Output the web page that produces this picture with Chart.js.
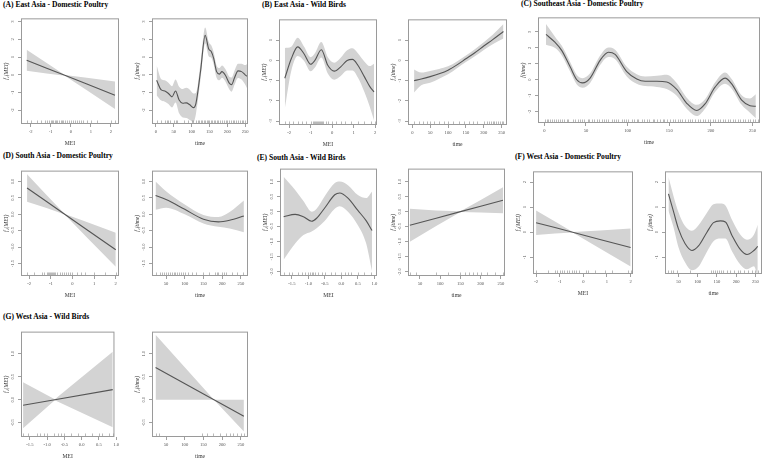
<!DOCTYPE html>
<html>
<head>
<meta charset="utf-8">
<script src="https://cdn.jsdelivr.net/npm/chart.js@4.4.1/dist/chart.umd.min.js"></script>
<style>
  body { margin: 0; background: #fff; }
  #fig { position: relative; width: 766px; height: 460px; overflow: hidden; background: #fff; }
  .ttl { position: absolute; font: bold 7.6px "Liberation Serif", serif; line-height: 1; white-space: nowrap; color: #000; }
  .pan { position: absolute; }
</style>
</head>
<body>
<div id="fig"></div>
<script>
// ---------- shared tick labels ----------
const meiTicks1 = [-2, -1, 0, 1, 2];
const meiTicksHalf = [-1.5, -1, -0.5, 0, 0.5, 1];
const timeTicks0 = [0, 50, 100, 150, 200, 250];
const timeTicks50 = [50, 100, 150, 200, 250];
const aYTicks = [-2, -1, 0, 1, 2, 3];
const bYTicks = [-3, -2, -1, 0, 1];
const cYTicks = [-2, -1, 0, 1, 2, 3];
const dYTicks = [-1.5, -1, -0.5, 0, 0.5, 1];
const eYTicks = [-2, -1.5, -1, -0.5, 0, 0.5, 1];
const fYTicks = [-1, 0, 1, 2];
const gYTicks = [-0.5, 0, 0.5, 1];

// ---------- (A) East Asia - Domestic Poultry ----------
const aMeiX   = [-2.2, -1.2, -0.3, 0.8, 2.2];
const aMeiFit = [0.82, 0.37, -0.03, -0.52, -1.15];
const aMeiHi  = [1.41, 0.66, -0.01, -0.17, -0.38];
const aMeiLo  = [0.23, 0.08, -0.05, -0.87, -1.92];
const aMeiRug = [-2.2,-2.0,-1.7,-1.5,-1.3,-1.2,-1.1,-1.0,-0.95,-0.9,-0.8,-0.75,-0.7,-0.6,-0.5,-0.45,-0.4,-0.3,-0.2,-0.1,0.0,0.1,0.2,0.3,0.4,0.5,0.6,0.8,1.0,1.3,2.0,2.2];

const aTimeX   = [2,15,25,35,45,55,65,75,85,95,105,112,125,138,148,155,162,170,178,185,195,205,212,220,230,240,250,256];
const aTimeFit = [-0.31,-0.85,-0.91,-1.05,-1.24,-0.91,-1.42,-1.6,-1.58,-1.69,-1.85,-1.62,0.2,2.22,1.45,1.31,0.91,0.18,0.04,0.18,-0.04,-0.45,-0.55,-0.18,0.22,0.18,0,-0.09];
const aTimeHi  = [0.54,-0.25,-0.31,-0.45,-0.64,-0.26,-0.67,-0.8,-0.73,-0.84,-1.05,-1.02,0.65,2.67,1.85,1.66,1.26,0.53,0.39,0.53,0.31,-0.1,-0.15,0.22,0.62,0.63,0.55,0.61];
const aTimeLo  = [-1.16,-1.45,-1.51,-1.65,-1.84,-1.56,-2.17,-2.4,-2.43,-2.54,-2.65,-2.22,-0.25,1.77,1.05,0.96,0.56,-0.17,-0.31,-0.17,-0.39,-0.8,-0.95,-0.58,-0.18,-0.27,-0.55,-0.79];
const aTimeRug = [2,15,25,30,35,40,50,55,60,80,90,100,105,112,118,122,126,130,134,138,142,146,150,154,158,162,166,170,175,180,185,190,195,200,205,210,215,220,225,230,235,240,245,250,255];

// ---------- (B) East Asia - Wild Birds ----------
const bMeiX   = [-2.2,-1.9,-1.6,-1.3,-1.0,-0.8,-0.5,-0.2,0.1,0.4,0.7,0.95,1.2,1.5,1.75,1.95];
const bMeiFit = [-0.88,0.08,0.67,0.32,-0.19,0.0,0.53,-0.24,-0.53,-0.32,0.0,0.05,-0.24,-0.8,-1.28,-1.56];
const bMeiHi  = [0.62,0.68,1.12,0.67,0.16,0.35,0.91,0.16,-0.11,0.13,0.5,0.6,0.36,-0.05,-0.28,-0.16];
const bMeiLo  = [-2.38,-0.52,0.22,-0.03,-0.54,-0.35,0.15,-0.64,-0.95,-0.77,-0.5,-0.5,-0.84,-1.55,-2.28,-2.96];
const bMeiRug = [-2.2,-2.0,-1.8,-1.6,-1.4,-1.2,-1.0,-0.9,-0.85,-0.8,-0.75,-0.7,-0.65,-0.6,-0.55,-0.5,-0.45,-0.4,-0.3,-0.2,0.0,0.2,0.4,0.6,0.9,1.2,1.5,1.8,2.0];

const bTimeX   = [5,25,50,75,100,125,150,175,200,225,255];
const bTimeFit = [-1.0,-0.92,-0.8,-0.66,-0.48,-0.22,0.08,0.38,0.71,1.03,1.43];
const bTimeHi  = [-0.45,-0.6,-0.52,-0.42,-0.29,-0.05,0.24,0.55,0.9,1.27,1.8];
const bTimeLo  = [-1.58,-1.22,-1.1,-0.9,-0.68,-0.38,-0.08,0.21,0.52,0.8,1.08];
const bTimeRug = [5,20,30,40,50,60,75,90,100,115,130,145,160,170,180,200,210,215,220,225,230,235,240,245,250,255];

// ---------- (C) Southeast Asia - Domestic Poultry ----------
const cTimeX   = [2,13,21,31,39,46,55,67,77,85,99,111,121,135,147,159,171,183,193,205,217,225,237,247,254];
const cTimeFit = [2.85,2.34,1.83,0.81,0,-0.2,0.1,1.22,1.73,1.59,0.51,0.04,-0.1,-0.1,-0.14,-0.61,-1.48,-1.93,-1.52,-0.47,0.1,-0.26,-1.28,-1.63,-1.67];
const cTimeHi  = [3.5,2.69,2.13,1.11,0.3,0.1,0.4,1.52,2.03,1.89,0.81,0.34,0.2,0.25,0.31,-0.21,-1.13,-1.58,-1.22,-0.17,0.45,0.04,-0.98,-1.18,-0.92];
const cTimeLo  = [2.2,1.99,1.53,0.51,-0.3,-0.5,-0.2,0.92,1.43,1.29,0.21,-0.26,-0.4,-0.45,-0.59,-1.01,-1.83,-2.28,-1.82,-0.77,-0.25,-0.56,-1.58,-2.08,-2.42];
const cTimeRug = [1,3,5,7,9,12,14,16,19,21,24,27,29,34,37,40,43,45,48,52,54,57,60,63,66,69,72,74,77,81,84,86,89,93,96,98,101,105,108,111,113,117,120,123,126,130,132,135,139,142,144,147,151,154,157,160,163,165,169,172,175,177,181,184,187,190,193,196,199,202,205,208,211,214,217,220,223,226,229,232,235,238,241,244,247,250,253,256];

// ---------- (D) South Asia - Domestic Poultry ----------
const dMeiX   = [-2.1, -1.2, -0.36, 0.6, 2.0];
const dMeiFit = [0.8, 0.39, 0, -0.44, -1.08];
const dMeiHi  = [1.22, 0.59, 0.01, -0.22, -0.56];
const dMeiLo  = [0.38, 0.19, -0.01, -0.66, -1.6];
const dMeiRug = [-2.1,-1.8,-1.4,-1.3,-1.2,-1.15,-1.1,-1.05,-1.0,-0.95,-0.9,-0.85,-0.8,-0.7,-0.6,-0.5,-0.4,-0.3,-0.2,-0.1,0.0,0.2,0.4,0.6,1.0,1.5,2.0];

const dTimeX   = [22,50,100,150,190,220,258];
const dTimeFit = [0.57,0.45,0.15,-0.15,-0.23,-0.18,-0.05];
const dTimeHi  = [1.0,0.7,0.3,-0.02,-0.08,0.07,0.42];
const dTimeLo  = [0.14,0.2,0.0,-0.28,-0.38,-0.43,-0.55];
const dTimeRug = [22,35,40,45,50,55,60,65,70,75,80,85,90,95,100,110,120,130,150,165,180,185,190,200,205,210,225,240,255];

// ---------- (E) South Asia - Wild Birds ----------
const eMeiX   = [-1.75,-1.4,-1.15,-0.9,-0.75,-0.5,-0.2,-0.05,0.2,0.5,0.75,0.93];
const eMeiFit = [-0.17,-0.09,-0.17,-0.32,-0.22,0.13,0.56,0.62,0.45,0.04,-0.3,-0.63];
const eMeiHi  = [1.16,0.72,0.35,0.0,0.1,0.52,0.95,1.0,0.88,0.55,0.45,0.67];
const eMeiLo  = [-1.6,-1.06,-0.78,-0.66,-0.55,-0.3,0.1,0.18,0.0,-0.45,-1.05,-1.98];
const eMeiRug = [-1.75,-1.6,-1.5,-1.3,-1.2,-1.1,-1.0,-0.95,-0.9,-0.85,-0.8,-0.7,-0.6,-0.5,-0.3,-0.2,0.0,0.1,0.2,0.3,0.5,0.7,0.9];

const eTimeX   = [25, 90, 150, 200, 255];
const eTimeFit = [-0.45, -0.22, 0, 0.18, 0.38];
const eTimeHi  = [0.1, 0.04, 0.01, 0.39, 0.81];
const eTimeLo  = [-1.0, -0.48, -0.01, -0.03, -0.05];
const eTimeRug = [25,40,90,120,150,160,170,180,190,200,215,235,255];

// ---------- (F) West Asia - Domestic Poultry ----------
const fMeiX   = [-2, -1.2, -0.45, 0.7, 2];
const fMeiFit = [0.38, 0.19, 0, -0.29, -0.61];
const fMeiHi  = [0.87, 0.43, 0.01, 0.07, 0.15];
const fMeiLo  = [-0.11, -0.05, -0.01, -0.65, -1.37];
const fMeiRug = [-2.0,-1.5,-1.2,-1.1,-1.0,-0.9,-0.8,-0.7,-0.6,-0.5,-0.4,-0.3,-0.2,0.1,0.2,0.5,0.9,1.2,1.9,2.0];

const fTimeX   = [24,37,50,67,85,102,124,141,159,172,189,211,228,246,256];
const fTimeFit = [1.53,0.83,0.13,-0.45,-0.73,-0.55,0,0.38,0.45,0.41,-0.13,-0.7,-0.89,-0.73,-0.57];
const fTimeHi  = [2.2,1.45,0.8,0.25,0.06,0.28,0.78,1.12,1.15,1.07,0.5,-0.1,-0.3,-0.1,0.3];
const fTimeLo  = [0.86,0.21,-0.6,-1.2,-1.52,-1.38,-0.78,-0.36,-0.25,-0.25,-0.76,-1.3,-1.48,-1.36,-1.8];
const fTimeRug = [22,30,35,45,80,135,140,145,150,155,160,165,175,185,195,205,210,220,230,240,250,256];

// ---------- (G) West Asia - Wild Birds ----------
const gMeiX   = [-1.7, -0.78, 0.9];
const gMeiFit = [-0.12, 0, 0.22];
const gMeiHi  = [0.38, 0.01, 1.04];
const gMeiLo  = [-0.62, -0.01, -0.6];
const gMeiRug = [-1.7,-1.55,-1.3,-1.2,-1.1,-1.0,-0.8,-0.7,-0.6,-0.5,-0.3,-0.1,0.1,0.3,0.5,0.6,0.8,0.9];

const gTimeX   = [22, 178, 258];
const gTimeFit = [0.7, 0, -0.36];
const gTimeHi  = [1.41, 0, 0];
const gTimeLo  = [0, 0, -0.69];
const gTimeRug = [22,30,145,160,175,195,210,220,230,240,250,258];

// ---------- titles ----------
const titles = [
  ["(A) East Asia - Domestic Poultry", 3, 1.3],
  ["(B) East Asia - Wild Birds", 262, 1],
  ["(C) Southeast Asia - Domestic Poultry", 521, 0.3],
  ["(D) South Asia - Domestic Poultry", 3, 152.3],
  ["(E) South Asia - Wild Birds", 257, 153.5],
  ["(F) West Asia - Domestic Poultry", 515, 153],
  ["(G) West Asia - Wild Birds", 3, 313]
];

const BAND = "#d3d3d3";
const LINE = "#555555";
const FRAME = "#9a9a9a";
const INK = "#555";
const SERIF = '"Liberation Serif", serif';
const TICK_SIZE = 4.6;
const TITLE_SIZE = 5.6;

// frame = [left, top, right, bottom] of the plot box in page pixels
const panels = [
  { frame: [21, 15, 119, 124], x: aMeiX, fit: aMeiFit, hi: aMeiHi, lo: aMeiLo, rug: aMeiRug, xr: [-2.48, 2.4], yr: [-2.77, 3.18], xt: meiTicks1, yt: aYTicks, xd: 0, yd: 0, xl: "MEI", yl: "f\u2081(MEI)", smooth: false },
  { frame: [152, 15, 248, 124], x: aTimeX, fit: aTimeFit, hi: aTimeHi, lo: aTimeLo, rug: aTimeRug, xr: [-11, 258], yr: [-2.77, 3.18], xt: timeTicks0, yt: aYTicks, xd: 0, yd: 0, xl: "time", yl: "f\u2082(time)", smooth: true },
  { frame: [279, 16, 377, 125], x: bMeiX, fit: bMeiFit, hi: bMeiHi, lo: bMeiLo, rug: bMeiRug, xr: [-2.47, 2.09], yr: [-3.19, 2.03], xt: meiTicks1, yt: bYTicks, xd: 0, yd: 0, xl: "MEI", yl: "f\u2081(MEI)", smooth: true },
  { frame: [408, 16, 507, 125], x: bTimeX, fit: bTimeFit, hi: bTimeHi, lo: bTimeLo, rug: bTimeRug, xr: [-12, 265], yr: [-3.19, 2.03], xt: timeTicks0, yt: bYTicks, xd: 0, yd: 0, xl: "time", yl: "f\u2082(time)", smooth: true },
  { frame: [538, 14, 760, 123], x: cTimeX, fit: cTimeFit, hi: cTimeHi, lo: cTimeLo, rug: cTimeRug, xr: [-7.6, 259], yr: [-2.72, 3.92], xt: timeTicks0, yt: cYTicks, xd: 0, yd: 0, xl: "time", yl: "f(time)", smooth: true },
  { frame: [21, 169, 119, 276], x: dMeiX, fit: dMeiFit, hi: dMeiHi, lo: dMeiLo, rug: dMeiRug, xr: [-2.38, 2.15], yr: [-1.88, 1.33], xt: meiTicks1, yt: dYTicks, xd: 0, yd: 1, xl: "MEI", yl: "f\u2081(MEI)", smooth: false },
  { frame: [152, 169, 248, 276], x: dTimeX, fit: dTimeFit, hi: dTimeHi, lo: dTimeLo, rug: dTimeRug, xr: [12.5, 269], yr: [-1.88, 1.33], xt: timeTicks50, yt: dYTicks, xd: 0, yd: 1, xl: "time", yl: "f\u2082(time)", smooth: true },
  { frame: [280, 167, 377, 276], x: eMeiX, fit: eMeiFit, hi: eMeiHi, lo: eMeiLo, rug: eMeiRug, xr: [-1.86, 1.08], yr: [-2.14, 1.43], xt: meiTicksHalf, yt: eYTicks, xd: 1, yd: 1, xl: "MEI", yl: "f\u2081(MEI)", smooth: true },
  { frame: [408, 167, 505, 276], x: eTimeX, fit: eTimeFit, hi: eTimeHi, lo: eTimeLo, rug: eTimeRug, xr: [20.4, 260], yr: [-2.14, 1.43], xt: timeTicks50, yt: eYTicks, xd: 0, yd: 1, xl: "time", yl: "f\u2082(time)", smooth: false },
  { frame: [533, 168, 633, 274], x: fMeiX, fit: fMeiFit, hi: fMeiHi, lo: fMeiLo, rug: fMeiRug, xr: [-2.13, 2.1], yr: [-1.67, 2.43], xt: meiTicks1, yt: fYTicks, xd: 0, yd: 0, xl: "MEI", yl: "f\u2081(MEI)", smooth: false },
  { frame: [665, 168, 762, 274], x: fTimeX, fit: fTimeFit, hi: fTimeHi, lo: fTimeLo, rug: fTimeRug, xr: [15, 267], yr: [-1.67, 2.43], xt: timeTicks50, yt: fYTicks, xd: 0, yd: 0, xl: "time", yl: "f\u2082(time)", smooth: true },
  { frame: [21, 330, 118, 437], x: gMeiX, fit: gMeiFit, hi: gMeiHi, lo: gMeiLo, rug: gMeiRug, xr: [-1.76, 0.95], yr: [-0.81, 1.48], xt: meiTicksHalf, yt: gYTicks, xd: 1, yd: 1, xl: "MEI", yl: "f\u2081(MEI)", smooth: false },
  { frame: [152, 330, 248, 437], x: gTimeX, fit: gTimeFit, hi: gTimeHi, lo: gTimeLo, rug: gTimeRug, xr: [12.5, 269], yr: [-0.81, 1.48], xt: timeTicks50, yt: gYTicks, xd: 0, yd: 1, xl: "time", yl: "f\u2082(time)", smooth: false }
];

// rug marks + plot box
const rugPlugin = {
  id: "rug",
  afterDatasetsDraw(chart, args, opts) {
    const { ctx, chartArea: a, scales } = chart;
    ctx.save();
    ctx.strokeStyle = "#8c8c8c";
    ctx.lineWidth = 0.6;
    ctx.beginPath();
    (opts.values || []).forEach(v => {
      const px = Math.round(scales.x.getPixelForValue(v)) + 0.5;
      ctx.moveTo(px, a.bottom);
      ctx.lineTo(px, a.bottom - 3.5);
    });
    ctx.stroke();
    ctx.strokeStyle = FRAME;
    ctx.lineWidth = 1;
    ctx.strokeRect(a.left + 0.5, a.top + 0.5, a.width - 1, a.height - 1);
    ctx.restore();
  }
};

const measure = document.createElement("canvas").getContext("2d");
function fmt(v, d) { return v.toFixed(d); }
function widest(vals, d) {
  measure.font = TICK_SIZE + "px " + SERIF;
  return Math.max(...vals.map(v => measure.measureText(fmt(v, d)).width));
}
const pts = (xs, ys) => xs.map((x, i) => ({ x: x, y: ys[i] }));

const LW = 18, TP = 3, RP = 3, BH = 25;
const fig = document.getElementById("fig");

titles.forEach(([text, x, y]) => {
  const el = document.createElement("div");
  el.className = "ttl";
  el.textContent = text;
  el.style.left = x + "px";
  el.style.top = y + "px";
  fig.appendChild(el);
});

panels.forEach(p => {
  const [l, t, r, b] = p.frame;
  const w = r - l + LW + RP, h = b - t + TP + BH;
  const box = document.createElement("div");
  box.className = "pan";
  box.style.left = (l - LW) + "px";
  box.style.top = (t - TP) + "px";
  box.style.width = w + "px";
  box.style.height = h + "px";
  const cv = document.createElement("canvas");
  cv.width = w; cv.height = h;
  cv.style.width = w + "px"; cv.style.height = h + "px";
  box.appendChild(cv);
  fig.appendChild(box);

  const interp = p.smooth ? { cubicInterpolationMode: "monotone" } : { tension: 0 };
  const yPad = 8.5 - 3 - widest(p.yt, p.yd) / 2;

  // band datasets get a higher order so the fitted line is painted on top
  new Chart(cv, {
    type: "line",
    data: {
      datasets: [
        Object.assign({ data: pts(p.x, p.hi), order: 2, borderColor: "rgba(0,0,0,0)", borderWidth: 0, pointRadius: 0, fill: "+1", backgroundColor: BAND }, interp),
        Object.assign({ data: pts(p.x, p.lo), order: 2, borderColor: "rgba(0,0,0,0)", borderWidth: 0, pointRadius: 0, fill: false }, interp),
        Object.assign({ data: pts(p.x, p.fit), order: 0, borderColor: LINE, borderWidth: 1.1, pointRadius: 0, fill: false }, interp)
      ]
    },
    options: {
      responsive: false,
      animation: false,
      events: [],
      layout: { padding: { left: 0, top: TP, right: RP, bottom: 0 } },
      plugins: { legend: { display: false }, tooltip: { enabled: false }, rug: { values: p.rug } },
      scales: {
        x: {
          type: "linear",
          min: p.xr[0], max: p.xr[1],
          afterBuildTicks: s => { s.ticks = p.xt.map(v => ({ value: v })); },
          afterFit: s => { s.height = BH; },
          grid: { display: true, drawOnChartArea: false, drawTicks: true, tickLength: 3, color: "#777", lineWidth: 0.7 },
          border: { display: false },
          ticks: { autoSkip: false, maxRotation: 0, minRotation: 0, padding: 2, color: INK, font: { family: SERIF, size: TICK_SIZE }, callback: v => fmt(v, p.xd) },
          title: { display: true, text: p.xl, color: "#333", font: { family: SERIF, size: TITLE_SIZE }, padding: { top: 0, bottom: 2.5 } }
        },
        y: {
          type: "linear",
          min: p.yr[0], max: p.yr[1],
          afterBuildTicks: s => { s.ticks = p.yt.map(v => ({ value: v })); },
          afterFit: s => { s.width = LW; },
          grid: { display: true, drawOnChartArea: false, drawTicks: true, tickLength: 3, color: "#777", lineWidth: 0.7 },
          border: { display: false },
          ticks: { autoSkip: false, minRotation: 90, maxRotation: 90, crossAlign: "center", padding: yPad, color: INK, font: { family: SERIF, size: TICK_SIZE }, callback: v => fmt(v, p.yd) },
          title: { display: true, text: p.yl, color: "#333", font: { family: SERIF, size: TITLE_SIZE, style: "italic" }, padding: { top: 0.5, bottom: 0 } }
        }
      }
    },
    plugins: [rugPlugin]
  });
});
</script>
</body>
</html>
